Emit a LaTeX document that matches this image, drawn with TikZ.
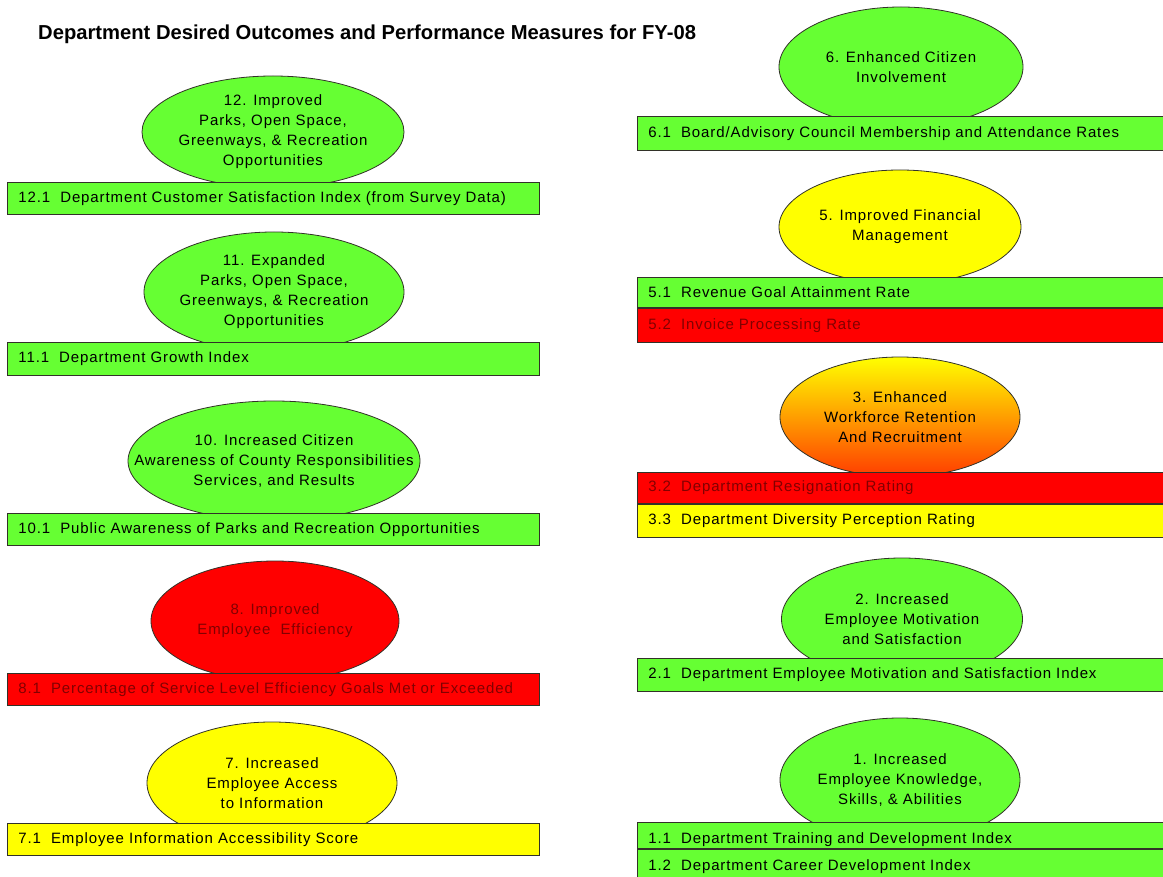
\documentclass[tikz,border=0pt]{standalone}
\usepackage{fontspec}
\setmainfont{Liberation Sans}
\newfontfamily\measfont[LetterSpace=6]{Liberation Sans}
\usetikzlibrary{shapes.geometric,positioning}

\definecolor{goalgreen}{RGB}{102,255,51}
\definecolor{goalyellow}{RGB}{255,255,0}
\definecolor{goalred}{RGB}{255,0,0}
\definecolor{goalorange}{RGB}{255,60,0}
\definecolor{redtext}{RGB}{130,0,0}
\definecolor{edgegray}{RGB}{50,50,40}

\tikzset{
  goal/.style={ellipse, draw=edgegray, line width=0.8pt, inner xsep=-45pt, inner ysep=-20pt,
    align=center, font=\measfont\fontsize{15}{20}\selectfont,
    minimum width=#1, minimum height=120pt},
  measure/.style={rectangle, draw=edgegray, line width=0.8pt, anchor=north west,
    inner xsep=11pt, inner ysep=0pt, align=left, text width=#1,
    font=\measfont\fontsize{15}{18}\selectfont},
  leftbar/.style={measure=510pt, minimum height=32pt},
  rightbar/.style={measure=518pt, minimum height=32pt},
}

\begin{document}
\begin{tikzpicture}[x=1pt, y=-1pt]
    \useasboundingbox[fill=white] (0,0) rectangle (1163,877);

    % Title
    \node[anchor=base west, inner sep=0pt, font=\bfseries\fontsize{20.2}{23}\selectfont] (title) at (38,40)
        {Department Desired Outcomes and Performance Measures for FY-08};

    % Left column: outcome ellipses (the bars cover their lower parts)
    \node[goal=262pt, minimum height=112pt, fill=goalgreen] (g12) at (273,132)
        {12. Improved\\Parks, Open Space,\\Greenways, \& Recreation\\Opportunities};
    \node[goal=260pt, fill=goalgreen] (g11) at (274,292)
        {11. Expanded\\Parks, Open Space,\\Greenways, \& Recreation\\Opportunities};
    \node[goal=292pt, fill=goalgreen] (g10) at (274,461)
        {10. Increased Citizen\\Awareness of County Responsibilities\\Services, and Results};
    \node[goal=248pt, fill=goalred, text=redtext] (g8) at (275,621)
        {8. Improved\\Employee\ \ Efficiency};
    \node[goal=250pt, minimum height=122pt, fill=goalyellow] (g7) at (272,783)
        {7. Increased\\Employee Access\\to Information};

    % Left column: measure bars
    \node[leftbar, fill=goalgreen] (m121) at (7,182)
        {12.1\ \ Department Customer Satisfaction Index (from Survey Data)};
    \node[leftbar, minimum height=33pt, fill=goalgreen] (m111) at (7,342)
        {11.1\ \ Department Growth Index};
    \node[leftbar, fill=goalgreen] (m101) at (7,513)
        {10.1\ \ Public Awareness of Parks and Recreation Opportunities};
    \node[leftbar, fill=goalred, text=redtext] (m81) at (7,673)
        {8.1\ \ Percentage of Service Level Efficiency Goals Met or Exceeded};
    \node[leftbar, fill=goalyellow] (m71) at (7,823)
        {7.1\ \ Employee Information Accessibility Score};

    % Right column: outcome ellipses
    \node[goal=244pt, fill=goalgreen] (g6) at (901,67)
        {6. Enhanced Citizen\\Involvement};
    \node[goal=242pt, minimum height=114pt, fill=goalyellow] (g5) at (900,227)
        {5. Improved Financial\\Management};
    \node[goal=240pt, top color=goalyellow, bottom color=goalorange] (g3) at (900,417)
        {3. Enhanced\\Workforce Retention\\And Recruitment};
    \node[goal=241pt, minimum height=122pt, fill=goalgreen] (g2) at (902,619)
        {2. Increased\\Employee Motivation\\and Satisfaction};
    \node[goal=240pt, minimum height=124pt, fill=goalgreen] (g1) at (900,780)
        {1. Increased\\Employee Knowledge,\\Skills, \& Abilities};

    % Right column: measure bars
    \node[rightbar, minimum height=34pt, fill=goalgreen] (m61) at (637,116)
        {6.1\ \ Board/Advisory Council Membership and Attendance Rates};
    \node[rightbar, minimum height=30pt, fill=goalgreen] (m51) at (637,277)
        {5.1\ \ Revenue Goal Attainment Rate};
    \node[rightbar, minimum height=34pt, fill=goalred, text=redtext] (m52) at (m51.south west)
        {5.2\ \ Invoice Processing Rate};
    \node[rightbar, minimum height=31pt, fill=goalred, text=redtext] (m32) at (637,472)
        {3.2\ \ Department Resignation Rating};
    \node[rightbar, minimum height=33pt, fill=goalyellow] (m33) at (m32.south west)
        {3.3\ \ Department Diversity Perception Rating};
    \node[rightbar, minimum height=33pt, fill=goalgreen] (m21) at (637,658)
        {2.1\ \ Department Employee Motivation and Satisfaction Index};
    \node[rightbar, minimum height=26pt, text height=17pt, text depth=0pt, fill=goalgreen] (m11) at (637,822)
        {1.1\ \ Department Training and Development Index};
    \node[rightbar, minimum height=34pt, fill=goalgreen] (m12) at (m11.south west)
        {1.2\ \ Department Career Development Index};
\end{tikzpicture}
\end{document}
